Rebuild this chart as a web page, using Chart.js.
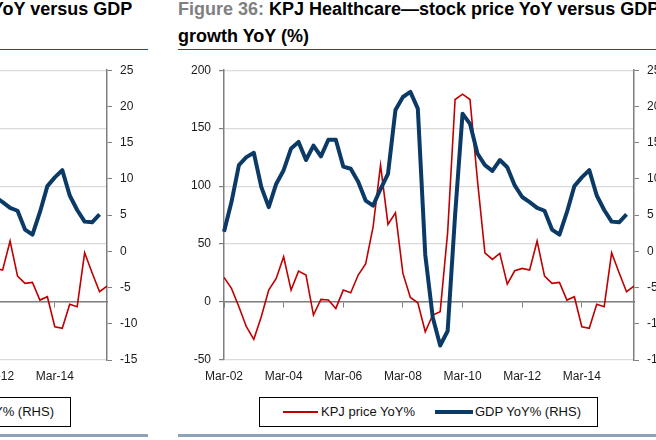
<!DOCTYPE html>
<html>
<head>
<meta charset="utf-8">
<script src="https://cdn.jsdelivr.net/npm/chart.js@4.4.1/dist/chart.umd.min.js"></script>
<style>
  body { margin: 0; width: 656px; height: 440px; overflow: hidden; background: #fff; position: relative;
         font-family: "Liberation Sans", Arial, sans-serif; }
  .fig { position: absolute; top: 0; width: 497px; height: 440px; }
  .title { position: absolute; left: 0; top: -4px; font-size: 18px; line-height: 27px; font-weight: bold;
           color: #000; white-space: nowrap; }
  .title .num { color: #808080; }
  .rule-top { position: absolute; left: 0; right: 0; top: 49px; height: 1px; background: #1f4e79; }
  .chartbox { position: absolute; left: 0; top: 55px; width: 497px; height: 335px; }
  .legend { position: absolute; left: 81px; top: 397px; width: 337px; height: 28px; border: 1px solid #000;
            font-size: 13px; color: #111; }
  .legend .swatch { position: absolute; }
  .legend .txt { position: absolute; top: 0; line-height: 28px; white-space: nowrap; }
  .rule-bottom { position: absolute; left: 0; right: 0; top: 434px; height: 3px; background: #8ea3ba; }
</style>
</head>
<body>
<script>
// quarterly, Mar-02 .. Dec-15
var quarters = [
  "Mar-02", "Jun-02", "Sep-02", "Dec-02", "Mar-03", "Jun-03", "Sep-03", "Dec-03",
  "Mar-04", "Jun-04", "Sep-04", "Dec-04", "Mar-05", "Jun-05", "Sep-05", "Dec-05",
  "Mar-06", "Jun-06", "Sep-06", "Dec-06", "Mar-07", "Jun-07", "Sep-07", "Dec-07",
  "Mar-08", "Jun-08", "Sep-08", "Dec-08", "Mar-09", "Jun-09", "Sep-09", "Dec-09",
  "Mar-10", "Jun-10", "Sep-10", "Dec-10", "Mar-11", "Jun-11", "Sep-11", "Dec-11",
  "Mar-12", "Jun-12", "Sep-12", "Dec-12", "Mar-13", "Jun-13", "Sep-13", "Dec-13",
  "Mar-14", "Jun-14", "Sep-14", "Dec-14", "Mar-15", "Jun-15", "Sep-15", "Dec-15"
];

// KPJ price YoY% (LHS)
var kpjPrice = [
  21.3, 11.8, -4.0, -21.3, -32.2, -12.6, 10.3, 20.4,
  39.1, 10.3, 26.7, 23.3, -11.2, 2.3, 1.7, -5.5,
  10.3, 8.0, 23.3, 32.8, 64.9, 118.1, 67.0, 77.0,
  24.7, 4.0, -0.6, -25.6, -11.2, -8.3, 60.0, 174.7,
  179.3, 174.7, 105.0, 42.5, 36.8, 42.0, 15.5, 27.0,
  29.0, 27.6, 52.6, 22.4, 16.1, 17.0, 1.7, 4.6,
  -21.3, -22.7, -2.0, -4.0, 42.5, 25.3, 8.9, 13.8
];

// GDP YoY% (RHS)
var gdp = [
  2.7, 6.8, 11.9, 13.0, 13.6, 8.9, 6.1, 9.3,
  11.2, 14.2, 15.1, 12.6, 14.6, 13.1, 15.4, 15.4,
  11.7, 11.4, 9.6, 7.0, 6.3, 8.6, 10.7, 19.5,
  21.3, 22.0, 19.7, -0.5, -9.1, -13.0, -11.0, 5.0,
  19.0, 17.6, 13.5, 11.9, 11.1, 12.6, 11.6, 9.1,
  7.5, 6.8, 6.0, 5.6, 3.0, 2.3, 5.4, 9.0,
  10.2, 11.2, 7.7, 5.7, 4.1, 4.0, 5.1, null
];

var redColor = "#c00000";
var blueColor = "#0b3a66";
var axisGray = "#7f7f7f";
var tickFont = { family: "Liberation Sans", size: 12 };

function buildFigure(left, figNo) {
  var fig = document.createElement("div");
  fig.className = "fig";
  fig.style.left = left + "px";
  fig.innerHTML =
    '<div class="title"><span class="num">Figure ' + figNo + ':</span> KPJ Healthcare\u2014stock price YoY versus GDP<br>growth YoY (%)</div>' +
    '<div class="rule-top"></div>' +
    '<div class="chartbox"><canvas width="497" height="335"></canvas></div>' +
    '<div class="legend">' +
      '<div class="swatch" style="left:23px;top:13px;width:35px;height:2px;background:' + redColor + '"></div>' +
      '<div class="txt" style="left:61px">KPJ price YoY%</div>' +
      '<div class="swatch" style="left:175px;top:12px;width:38px;height:4px;background:' + blueColor + '"></div>' +
      '<div class="txt" style="left:215px">GDP YoY% (RHS)</div>' +
    '</div>' +
    '<div class="rule-bottom"></div>';
  document.body.appendChild(fig);

  var ctx = fig.querySelector("canvas").getContext("2d");
  var chart = new Chart(ctx, {
    type: "line",
    data: {
      labels: quarters,
      datasets: [
        {
          label: "KPJ price YoY%",
          data: kpjPrice,
          yAxisID: "y",
          borderColor: redColor,
          borderWidth: 1.6,
          pointRadius: 0,
          tension: 0,
          order: 2
        },
        {
          label: "GDP YoY% (RHS)",
          data: gdp,
          yAxisID: "y1",
          borderColor: blueColor,
          borderWidth: 4,
          borderJoinStyle: "round",
          pointRadius: 0,
          tension: 0,
          order: 1
        }
      ]
    },
    options: {
      responsive: false,
      animation: false,
      devicePixelRatio: 1,
      layout: { padding: 0 },
      plugins: { legend: { display: false }, tooltip: { enabled: false } },
      scales: {
        x: {
          position: "bottom",
          grid: { display: false, drawTicks: false },
          border: { display: false },
          ticks: {
            autoSkip: false,
            maxRotation: 0,
            padding: 9,
            color: "#1a1a1a",
            font: tickFont,
            callback: function (val, idx) {
              return idx % 8 === 0 ? quarters[idx] : "";
            }
          },
          afterFit: function (s) { s.height = 30; }
        },
        x2: {
          type: "category",
          position: { y: 0 },
          ticks: { display: false },
          grid: {
            display: true,
            drawOnChartArea: false,
            drawTicks: true,
            tickLength: 5,
            lineWidth: 1,
            tickColor: function (c) { return c.index % 8 === 0 ? axisGray : "rgba(0,0,0,0)"; }
          },
          border: { display: true, color: axisGray, width: 1.5 },
          afterFit: function (s) { s.height = 0; }
        },
        y: {
          position: "left",
          min: -50,
          max: 200,
          ticks: { stepSize: 50, padding: 8, color: "#1a1a1a", font: tickFont },
          grid: { color: "#dadada", lineWidth: 1.2, drawTicks: true, tickLength: 5, tickColor: axisGray },
          border: { display: true, color: axisGray, width: 1.5 },
          afterFit: function (s) { s.width = 46; }
        },
        y1: {
          position: "right",
          min: -15,
          max: 25,
          ticks: { stepSize: 5, padding: 8, color: "#1a1a1a", font: tickFont },
          grid: { drawOnChartArea: false, drawTicks: true, tickLength: 5, tickColor: axisGray },
          border: { display: true, color: axisGray, width: 1.5 },
          afterFit: function (s) { s.width = 41; }
        }
      }
    }
  });
  return chart;
}

buildFigure(-349, 35);
buildFigure(178, 36);
</script>
</body>
</html>
